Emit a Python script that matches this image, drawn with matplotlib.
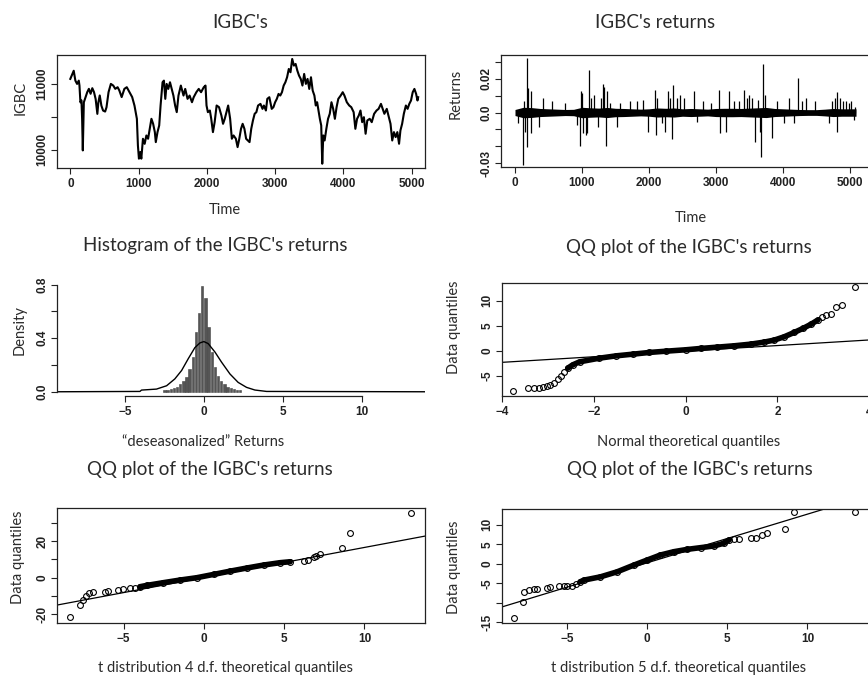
import numpy as np
import matplotlib.pyplot as plt

# IGBC index level
igbc_t = [0, 50, 74, 99, 124, 134, 148, 163, 173, 183, 198, 223, 248, 272, 297, 322, 347,
          371, 396, 411, 431, 455, 480, 510, 530, 560, 594, 629, 658, 693, 718, 752, 792,
          827, 866, 906, 940, 975, 990, 1005, 1025, 1040, 1064, 1089, 1114, 1139, 1163,
          1188, 1213, 1238, 1252, 1277, 1302, 1322, 1351, 1371, 1391, 1411, 1435, 1460,
          1485, 1510, 1535, 1559, 1584, 1619, 1658, 1683, 1717, 1747, 1782, 1807, 1846,
          1881, 1915, 1955, 1980, 1995, 2015, 2044, 2064, 2089, 2114, 2143, 2178, 2213,
          2237, 2262, 2287, 2312, 2341, 2366, 2391, 2425, 2450, 2475, 2500, 2524, 2550,
          2575, 2600, 2625, 2650, 2675, 2700, 2725, 2750, 2785, 2815, 2835, 2865, 2885,
          2915, 2950, 2975, 3000, 3025, 3050, 3075, 3100, 3125, 3150, 3175, 3200, 3225,
          3250, 3275, 3300, 3325, 3350, 3375, 3400, 3425, 3450, 3475, 3500, 3525, 3550,
          3575, 3595, 3615, 3635, 3655, 3675, 3690, 3705, 3725, 3750, 3775, 3800, 3825,
          3850, 3875, 3900, 3925, 3960, 3990, 4015, 4050, 4085, 4115, 4150, 4175, 4200,
          4225, 4250, 4275, 4300, 4325, 4350, 4385, 4415, 4450, 4485, 4515, 4550, 4575,
          4600, 4635, 4665, 4690, 4715, 4740, 4765, 4790, 4815, 4835, 4860, 4885, 4915,
          4940, 4965, 4990, 5015, 5040, 5065, 5085, 5095]
igbc_v = [11076, 11200, 11050, 11000, 11050, 10975, 10720, 10750, 10470, 9990, 10720, 10800,
          10875, 10925, 10850, 10935, 10875, 10770, 10545, 10720, 10825, 10670, 10595, 10580,
          10645, 10875, 11000, 10975, 10925, 10950, 10900, 10800, 10925, 10950, 10875, 10800,
          10670, 10470, 10065, 9865, 9965, 9865, 10167, 10090, 10217, 10167, 10318, 10470,
          10394, 10268, 10116, 10268, 10369, 10672, 11025, 11050, 10773, 11000, 10924, 11025,
          10924, 10823, 10672, 10571, 10823, 10975, 10823, 10924, 10773, 10823, 10722, 10798,
          10874, 10924, 10874, 10950, 10975, 10672, 10571, 10596, 10470, 10268, 10419, 10672,
          10647, 10520, 10394, 10470, 10571, 10672, 10470, 10167, 10217, 10167, 10040, 10167,
          10318, 10394, 10318, 10167, 10141, 10116, 10318, 10445, 10546, 10571, 10672, 10697,
          10621, 10672, 10596, 10773, 10798, 10621, 10647, 10722, 10773, 10848, 10823, 10874,
          10975, 11025, 11101, 11227, 11177, 11379, 11278, 11303, 11202, 11126, 11076, 10975,
          11151, 11000, 11076, 10924, 11101, 10899, 10823, 10672, 10722, 10596, 10470, 10369,
          9788, 10217, 10141, 10318, 10470, 10546, 10722, 10621, 10470, 10647, 10773, 10823,
          10874, 10823, 10722, 10672, 10647, 10571, 10318, 10470, 10520, 10596, 10419, 10495,
          10243, 10445, 10470, 10419, 10546, 10596, 10621, 10697, 10621, 10546, 10621, 10495,
          10394, 10141, 10268, 10192, 10268, 10091, 10293, 10394, 10546, 10672, 10621, 10697,
          10748, 10874, 10924, 10848, 10748, 10798]

# Returns: envelope of the dense band and the visible spikes
band_t = [0, 125, 250, 375, 500, 625, 750, 875, 1000, 1125, 1250, 1375, 1500, 1625, 1750,
          1875, 2000, 2125, 2250, 2375, 2500, 2625, 2750, 2875, 3000, 3125, 3250, 3375,
          3500, 3625, 3750, 3875, 4000, 4125, 4250, 4375, 4500, 4625, 4750, 4875, 5000, 5090]
band_w = [0.0018, 0.0031, 0.0029, 0.0024, 0.0022, 0.002, 0.0018, 0.0019, 0.0031, 0.0028,
          0.0026, 0.003, 0.0025, 0.0024, 0.0022, 0.002, 0.0022, 0.0027, 0.0025, 0.0027,
          0.0022, 0.0024, 0.0022, 0.002, 0.0024, 0.0025, 0.0025, 0.0024, 0.0026, 0.0028,
          0.003, 0.0024, 0.0022, 0.002, 0.0018, 0.0017, 0.0017, 0.002, 0.0024, 0.0022,
          0.0022, 0.0022]
spike_t = [174, 114, 180, 150, 134, 199, 239, 243, 50, 363, 413, 547, 746, 930, 970, 980,
           1000, 1020, 1055, 1080, 1104, 1130, 1180, 1244, 1279, 1308, 1333, 1358, 1368,
           1418, 1527, 1567, 1716, 1816, 1915, 1990, 2090, 2104, 2124, 2189, 2239, 2279,
           2313, 2348, 2353, 2413, 2462, 2520, 2678, 2718, 2802, 2926, 3040, 3064, 3148,
           3188, 3272, 3347, 3411, 3470, 3495, 3545, 3579, 3629, 3658, 3668, 3708, 3728,
           3841, 3916, 4015, 4089, 4163, 4223, 4287, 4337, 4485, 4683, 4733, 4782, 4807,
           4810, 4847, 4896, 4940, 4980, 5015, 5054, 5079]
spike_r = [0.0326, -0.031, -0.0204, -0.0114, 0.0066, 0.0146, 0.0126, -0.0124, -0.0064,
           -0.0084, 0.0086, 0.0066, 0.0056, -0.0074, -0.0198, 0.0126, 0.0116, -0.0124,
           -0.0134, -0.0124, 0.025, 0.0086, 0.0106, -0.0084, 0.0086, 0.0172, 0.015, -0.0198,
           0.0126, 0.0056, -0.0084, 0.0056, 0.0066, 0.0066, 0.0076, -0.0114, 0.0132, -0.0134,
           0.0086, -0.0064, -0.0114, 0.013, 0.0086, -0.0158, 0.0166, 0.0086, 0.0106, 0.0086,
           0.013, -0.0054, 0.0066, 0.0056, 0.0136, -0.0124, -0.0114, 0.013, 0.0066, 0.0066,
           0.0136, 0.0086, 0.0106, 0.0086, -0.0174, 0.0076, -0.0114, -0.0264, 0.029, 0.0106,
           -0.015, 0.0066, -0.0064, 0.0086, -0.0064, 0.0206, 0.0066, 0.0086, 0.0066, -0.0064,
           0.0066, 0.0086, 0.0122, -0.0118, 0.0086, 0.007, 0.0066, 0.0056, 0.0066, -0.0044,
           0.003]

# Histogram of deseasonalized returns (bin centres, densities) and density curve
hist_mid = [-2.5, -2.3, -2.1, -1.9, -1.7, -1.5, -1.3, -1.1, -0.9, -0.7, -0.5, -0.3, -0.1,
            0.1, 0.3, 0.5, 0.7, 0.9, 1.1, 1.3, 1.5, 1.7, 1.9, 2.1, 2.3]
hist_dens = [0.013, 0.013, 0.02, 0.028, 0.038, 0.058, 0.083, 0.113, 0.171, 0.259, 0.448,
             0.586, 0.787, 0.699, 0.485, 0.297, 0.184, 0.121, 0.083, 0.058, 0.038, 0.028,
             0.02, 0.015, 0.013]
dens_x = [-9.3, -4.05, -3.95, -3.0, -2.36, -1.84, -1.41, -0.99, -0.57, -0.25, 0.0, 0.27,
          0.7, 1.12, 1.65, 2.17, 2.7, 3.23, 3.97, 14.0]
dens_y = [0.0, 0.0025, 0.0126, 0.02, 0.045, 0.096, 0.159, 0.247, 0.33, 0.365, 0.375, 0.36,
          0.297, 0.221, 0.133, 0.07, 0.033, 0.013, 0.0025, 0.0]

# QQ plot against the normal
qn_x = [-3.77, -3.44, -3.31, -3.2, -3.11, -3.02, -2.95, -2.86, -2.78, -2.72, -2.66, -2.57,
        -2.46, -2.31, -1.88, -1.51, -1.15, -0.79, -0.42, 0.0, 0.33, 0.69, 1.06, 1.42, 1.71,
        1.93, 2.15, 2.37, 2.56, 2.74, 2.88, 2.97, 3.06, 3.17, 3.27, 3.41, 3.68]
qn_y = [-8.0, -7.47, -7.47, -7.33, -7.2, -7.0, -6.8, -6.33, -5.67, -5.0, -4.2, -3.47, -2.8,
        -2.2, -1.47, -1.0, -0.67, -0.33, -0.07, 0.2, 0.47, 0.73, 1.0, 1.33, 1.73, 2.13, 2.8,
        3.67, 4.47, 5.33, 6.13, 6.8, 7.13, 7.33, 8.67, 9.13, 12.8]
qn_line = (-0.07, 0.557)

# QQ plot against t with 4 d.f.
q4_x = [-8.35, -7.72, -7.51, -7.35, -7.14, -6.9, -6.17, -5.96, -5.34, -5.07, -4.61, -4.3,
        -3.99, -3.57, -2.53, -1.49, -0.45, 0.6, 1.64, 2.68, 3.71, 4.75, 5.37, 6.2, 6.5, 6.85,
        7.0, 7.2, 8.6, 9.1, 12.88]
q4_y = [-21.6, -14.9, -12.2, -10.0, -8.6, -7.6, -7.6, -7.3, -6.7, -6.2, -5.8, -5.4, -4.9,
        -4.2, -2.7, -1.27, 0.0, 1.8, 3.6, 5.3, 6.9, 8.2, 8.7, 9.2, 9.6, 11.1, 11.8, 12.7,
        16.0, 24.6, 35.5]
q4_line = (0.1, 1.64)

# QQ plot against t with 5 d.f.
q5_x = [-8.32, -7.73, -7.65, -7.38, -7.07, -6.86, -6.24, -6.03, -5.51, -5.16, -5.0, -4.68,
        -4.41, -4.16, -3.95, -2.91, -1.87, -0.83, 0.0, 0.83, 1.66, 2.5, 3.33, 4.16, 4.78,
        5.1, 5.41, 5.72, 6.45, 6.76, 7.18, 7.45, 8.57, 9.16, 12.94]
q5_y = [-13.9, -9.8, -7.2, -6.8, -6.5, -6.37, -6.1, -5.9, -5.75, -5.75, -5.6, -5.6, -5.24,
        -4.6, -4.2, -3.35, -2.06, -0.34, 0.96, 2.25, 3.1, 3.7, 4.14, 4.57, 5.26, 6.1, 6.3,
        6.4, 6.55, 6.55, 7.4, 7.85, 8.9, 13.2, 13.2]
q5_line = (0.24, 1.25)

W, H = 868, 683
TXT = '#2b2b2b'
TITLE_FONT = 'Lato'
TICK_FONT = 'Liberation Sans'

fig = plt.figure(figsize=(W / 100, H / 100), dpi=100)


def px_axes(left, top, right, bottom):
    return fig.add_axes([left / W, 1 - bottom / H, (right - left) / W, (bottom - top) / H])


def px_text(x, y, s, size, rot=0):
    fig.text(x / W, 1 - y / H, s, ha='center', va='center', rotation=rot,
             fontsize=size, color=TXT, family=TITLE_FONT)


def r_style(ax, box=True):
    for sp in ax.spines.values():
        sp.set_linewidth(0.9)
        sp.set_color('#222222')
        sp.set_visible(box)
    ax.tick_params(length=4, width=0.8, color='#222222', labelsize=8.5,
                   labelcolor='#222222', pad=3)
    ax.tick_params(axis='y', pad=2)
    for lab in ax.get_xticklabels() + ax.get_yticklabels():
        lab.set_family(TICK_FONT)
        lab.set_fontweight('bold')
    for lab in ax.get_yticklabels():
        lab.set_rotation(90)
        lab.set_va('center')


def set_yticks(ax, ticks, labels):
    ax.set_yticks(ticks)
    ax.set_yticklabels(labels)


# --- IGBC level
ax1 = px_axes(57, 55, 425, 168)
ax1.plot(igbc_t, igbc_v, color='black', lw=1.5)
ax1.set_xlim(-195, 5195)
ax1.set_ylim(9723, 11439)
ax1.set_xticks(range(0, 5001, 1000))
set_yticks(ax1, [10000, 10500, 11000], ['10000', '', '11000'])
r_style(ax1)

# --- returns
ax2 = px_axes(501, 55, 869, 167)
ax2.fill_between(band_t, [-w for w in band_w], band_w, color='black', lw=0)
ax2.vlines(spike_t, 0, spike_r, color='black', lw=0.9)
ax2.set_xlim(-209, 5284)
ax2.set_ylim(-0.0323, 0.0341)
ax2.set_xticks(range(0, 5001, 1000))
set_yticks(ax2, [-0.03, -0.02, -0.01, 0.0, 0.01, 0.02, 0.03],
           ['-0.03', '', '', '0.0', '', '0.02', ''])
r_style(ax2)

# --- histogram
ax3 = px_axes(57, 282, 425, 396)
ax3.bar(hist_mid, hist_dens, width=0.15, color='#555555', edgecolor='#444444', lw=0.4)
ax3.plot(dens_x, dens_y, color='black', lw=1.0)
ax3.set_xlim(-9.3, 14.0)
ax3.set_ylim(-0.0316, 0.82)
ax3.set_xticks([-5, 0, 5, 10])
set_yticks(ax3, [0.0, 0.2, 0.4, 0.6, 0.8], ['0.0', '', '0.4', '', '0.8'])
r_style(ax3, box=False)
ax3.spines['left'].set_visible(True)
ax3.spines['bottom'].set_visible(True)
ax3.spines['left'].set_bounds(0, 0.8)
ax3.spines['bottom'].set_bounds(-5, 10)


def qq_panel(ax, xs, ys, line, dense):
    xs = np.array(xs)
    ys = np.array(ys)
    m = (xs > dense[0]) & (xs < dense[1])
    ax.plot(xs[m], ys[m], color='black', lw=4.0, solid_capstyle='round')
    ax.plot(xs, ys, 'o', mfc='none', mec='black', ms=4.2, mew=0.8)
    ax.axline((0, line[0]), slope=line[1], color='black', lw=0.9)


# --- QQ normal
ax4 = px_axes(502, 283, 871.5, 396)
qq_panel(ax4, qn_x, qn_y, qn_line, (-2.6, 2.9))
ax4.set_xlim(-4.0, 4.05)
ax4.set_ylim(-9.0, 13.5)
ax4.set_xticks([-4, -2, 0, 2, 4])
set_yticks(ax4, [-5, 0, 5, 10], ['-5', '0', '5', '10'])
r_style(ax4)

# --- QQ t4
ax5 = px_axes(57, 508, 425, 623)
qq_panel(ax5, q4_x, q4_y, q4_line, (-4.2, 5.5))
ax5.set_xlim(-9.16, 13.77)
ax5.set_ylim(-24.7, 38.0)
ax5.set_xticks([-5, 0, 5, 10])
set_yticks(ax5, [-20, -10, 0, 10, 20, 30], ['-20', '', '0', '', '20', ''])
r_style(ax5)

# --- QQ t5
ax6 = px_axes(502, 509, 870, 623)
qq_panel(ax6, q5_x, q5_y, q5_line, (-4.2, 5.2))
ax6.set_xlim(-9.05, 13.9)
ax6.set_ylim(-15.2, 14.06)
ax6.set_xticks([-5, 0, 5, 10])
set_yticks(ax6, [-15, -10, -5, 0, 5, 10], ['-15', '', '-5', '0', '5', '10'])
r_style(ax6)

# titles and axis labels
px_text(240, 22, "IGBC's", 13.5)
px_text(655, 22, "IGBC's returns", 13.5)
px_text(215, 246, "Histogram of the IGBC's returns", 13.5)
px_text(689, 248, "QQ plot of the IGBC's returns", 13.5)
px_text(210, 470, "QQ plot of the IGBC's returns", 13.5)
px_text(690, 470, "QQ plot of the IGBC's returns", 13.5)

px_text(225, 210, 'Time', 10.5)
px_text(691, 218, 'Time', 10.5)
px_text(203, 442, '\u201cdeseasonalized\u201d Returns', 10.5)
px_text(689, 442, 'Normal theoretical quantiles', 10.5)
px_text(225, 668, 't distribution 4 d.f. theoretical quantiles', 10.5)
px_text(679, 668, 't distribution 5 d.f. theoretical quantiles', 10.5)

px_text(21, 98, 'IGBC', 10.5, rot=90)
px_text(456, 94, 'Returns', 10.5, rot=90)
px_text(20, 330, 'Density', 10.5, rot=90)
px_text(454, 327, 'Data quantiles', 10.5, rot=90)
px_text(18, 557, 'Data quantiles', 10.5, rot=90)
px_text(454, 567, 'Data quantiles', 10.5, rot=90)

fig.savefig('out.png', dpi=100)
